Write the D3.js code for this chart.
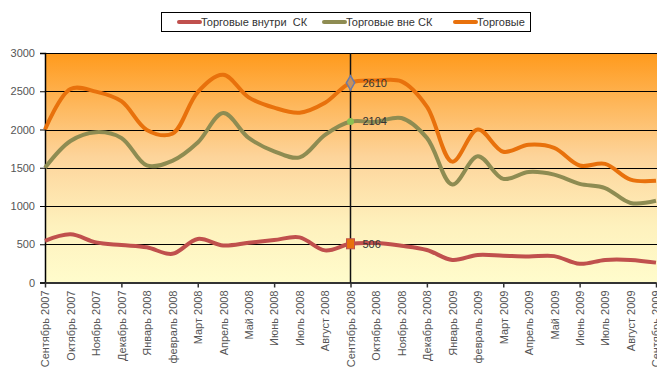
<!DOCTYPE html>
<html>
<head>
<meta charset="utf-8">
<script src="https://cdn.jsdelivr.net/npm/d3@7"></script>
<style>
  body { margin: 0; background: #fff; }
  svg { display: block; overflow: hidden; }
  text { font-family: "Liberation Sans", Arial, sans-serif; }
</style>
</head>
<body>
<div id="chart"></div>
<script>
// Данные - торговые по месяцам
var months = ["Сентябрь 2007", "Октябрь 2007", "Ноябрь 2007", "Декабрь 2007", "Январь 2008",
  "февраль 2008", "Март 2008", "Апрель 2008", "Май 2008", "Июнь 2008", "Июль 2008", "Август 2008",
  "Сентябрь 2008", "Октябрь 2008", "Ноябрь 2008", "Декабрь 2008", "Январь 2009", "февраль 2009",
  "Март 2009", "Апрель 2009", "Май 2009", "Июнь 2009", "Июль 2009", "Август 2009", "Сентябрь 2009"];

var inside = [545, 630, 525, 490, 460, 375, 570, 485, 520, 555, 590, 420,
  506, 515, 480, 425, 295, 360, 350, 340, 345, 245, 295, 295, 260];
var outside = [1500, 1850, 1965, 1890, 1530, 1590, 1830, 2215, 1890, 1715, 1635, 1930,
  2104, 2100, 2150, 1890, 1280, 1650, 1355, 1445, 1410, 1290, 1235, 1040, 1068];
var total = [2000, 2530, 2495, 2370, 1995, 1945, 2490, 2715, 2420, 2285, 2220, 2350,
  2610, 2640, 2630, 2300, 1580, 2000, 1710, 1800, 1760, 1530, 1550, 1345, 1330];

var yTicks = [0, 500, 1000, 1500, 2000, 2500, 3000];
var markIndex = 12;

var seriesNames = ["Торговые внутри  СК", "Торговые вне СК", "Торговые"];
var colors = ["#c0504d", "#8e8c52", "#e8710c"];

//
// chart
//
var w = 657, h = 371;
var x0 = 45, x1 = 656, yTop = 53, yBot = 282.5;

var svg = d3.select("#chart").append("svg")
  .attr("width", w).attr("height", h);

var x = d3.scalePoint().domain(months).range([x0, x1]);
var y = d3.scaleLinear().domain([0, 3000]).range([yBot, yTop]);

// background gradient
var grad = svg.append("defs").append("linearGradient")
  .attr("id", "bg").attr("x1", 0).attr("y1", 0).attr("x2", 0).attr("y2", 1);
grad.append("stop").attr("offset", "0%").attr("stop-color", "#ff9a1c");
grad.append("stop").attr("offset", "45%").attr("stop-color", "#fdd49a");
grad.append("stop").attr("offset", "75%").attr("stop-color", "#fef1bd");
grad.append("stop").attr("offset", "100%").attr("stop-color", "#fffccc");

svg.append("rect")
  .attr("x", x0).attr("y", yTop)
  .attr("width", w - x0).attr("height", yBot - yTop)
  .attr("fill", "url(#bg)");

// gridlines
svg.append("g").selectAll("line")
  .data(yTicks.filter(function(d) { return d > 0; }))
  .enter().append("line")
  .attr("x1", x0).attr("x2", w)
  .attr("y1", function(d) { return Math.round(y(d)) + 0.5; })
  .attr("y2", function(d) { return Math.round(y(d)) + 0.5; })
  .attr("stroke", "#000").attr("stroke-width", 1);

// y axis
var yAxis = svg.append("g")
  .attr("transform", "translate(" + x0 + ",0)")
  .call(d3.axisLeft(y).tickValues(yTicks).tickFormat(d3.format("d")).tickSize(5).tickPadding(5));
yAxis.select(".domain").attr("stroke", "#000").attr("stroke-width", 1.5);
yAxis.selectAll(".tick line").attr("stroke", "#000");
yAxis.selectAll("text").attr("fill", "#555").style("font-size", "11px");

// x axis
var xAxis = svg.append("g")
  .attr("transform", "translate(0," + yBot + ")")
  .call(d3.axisBottom(x).tickSize(0).tickSizeOuter(0));
xAxis.select(".domain").attr("stroke", "#333").attr("stroke-width", 2);
xAxis.selectAll("text")
  .attr("fill", "#555").style("font-size", "11px")
  .attr("transform", "rotate(-90)")
  .attr("text-anchor", "end")
  .attr("x", -8).attr("y", 0).attr("dy", "0.35em");
xAxis.selectAll(".tick").filter(function(d, i) { return i % 3 === 0; })
  .append("line").attr("y1", 0).attr("y2", 5).attr("stroke", "#333").attr("stroke-width", 1.5);

// vertical marker line
svg.append("line")
  .attr("x1", x(months[markIndex])).attr("x2", x(months[markIndex]))
  .attr("y1", yTop).attr("y2", yBot)
  .attr("stroke", "#111").attr("stroke-width", 1.5);

// lines
var line = d3.line()
  .x(function(d, i) { return x(months[i]); })
  .y(function(d) { return y(d); })
  .curve(d3.curveCatmullRom.alpha(0.5));

[inside, outside, total].forEach(function(s, k) {
  svg.append("path")
    .datum(s)
    .attr("d", line)
    .attr("fill", "none")
    .attr("stroke", colors[k])
    .attr("stroke-width", 4)
    .attr("stroke-linejoin", "round");
});

// markers on Sep 2008
var mx = x(months[markIndex]);
svg.append("path")
  .attr("d", d3.symbol().type(d3.symbolDiamond).size(60)())
  .attr("transform", "translate(" + mx + "," + y(total[markIndex]) + ")")
  .attr("fill", "#c8905a").attr("stroke", "#6a7aa8").attr("stroke-width", 1.5);
svg.append("circle")
  .attr("cx", mx).attr("cy", y(outside[markIndex])).attr("r", 3.5)
  .attr("fill", "#8cc152");
svg.append("rect")
  .attr("x", mx - 4).attr("y", y(inside[markIndex]) - 5)
  .attr("width", 8).attr("height", 10)
  .attr("fill", "#e8710c").attr("stroke", "#c0504d").attr("stroke-width", 1);

svg.selectAll(".val")
  .data([total[markIndex], outside[markIndex], inside[markIndex]])
  .enter().append("text")
  .attr("x", mx + 12)
  .attr("y", function(d) { return y(d); })
  .attr("dy", "0.35em")
  .attr("fill", "#333")
  .style("font-size", "11px")
  .text(function(d) { return d; });

// legend
var legend = svg.append("g");
legend.append("rect")
  .attr("x", 161.5).attr("y", 12.5).attr("width", 369).attr("height", 19)
  .attr("fill", "#fff").attr("stroke", "#000").attr("stroke-width", 1);
var legX = [179, 324, 455];
seriesNames.forEach(function(name, k) {
  legend.append("line")
    .attr("x1", legX[k]).attr("x2", legX[k] + 21)
    .attr("y1", 22).attr("y2", 22)
    .attr("stroke", colors[k]).attr("stroke-width", 4).attr("stroke-linecap", "round");
  legend.append("text")
    .attr("x", legX[k] + 22).attr("y", 22).attr("dy", "0.35em")
    .attr("fill", "#333").style("font-size", "11px")
    .style("white-space", "pre")
    .text(name);
});
</script>
</body>
</html>
